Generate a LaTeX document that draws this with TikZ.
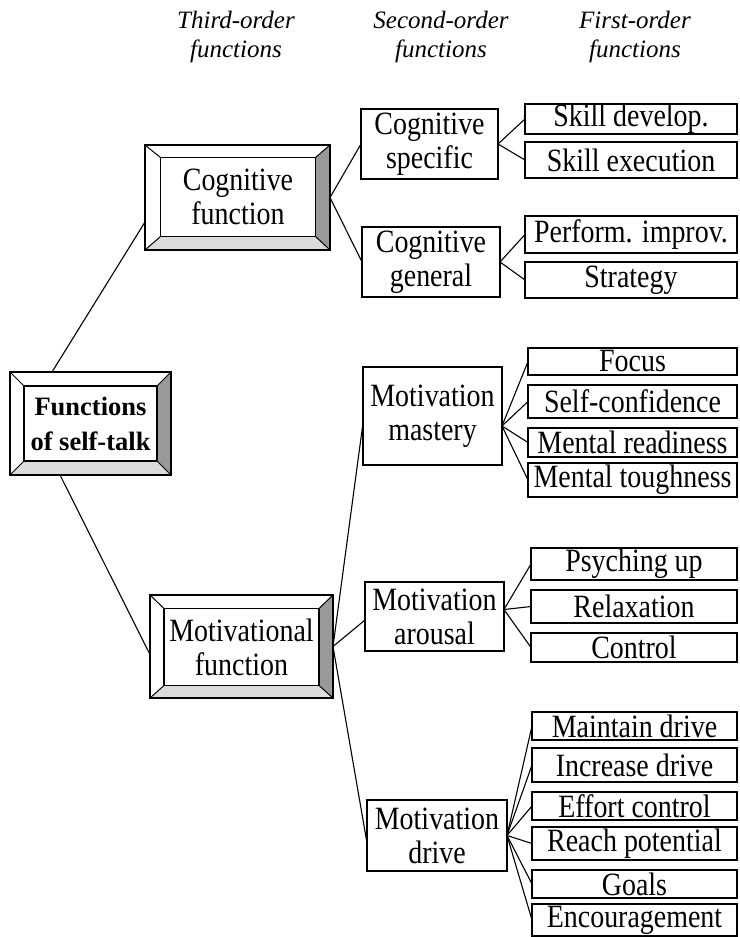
\documentclass[tikz,border=0pt]{standalone}
\usepackage{fontspec}
\setmainfont{Liberation Serif}
\newfontfamily\tallserif[FakeStretch=0.86]{Liberation Serif}
\begin{document}
\begin{tikzpicture}[x=1pt,y=-1pt,
  every node/.style={inner sep=0pt, outer sep=0pt},
  hdr/.style={font=\fontsize{25}{29.5}\selectfont\itshape, align=center},
  txt/.style={font=\tallserif\fontsize{32.5}{34}\selectfont, align=center},
  roottxt/.style={font=\fontsize{26.5}{35}\selectfont\bfseries, align=center},
  plainbox/.style={txt, draw, line width=1.1pt},
  bevelout/.style={},
  bevelin/.style={},
  rshade/.style={fill=black!40},
  bshade/.style={fill=black!14},
  ln/.style={line width=1.1pt}]
\useasboundingbox[fill=white] (0,0) rectangle (739,937);

% headers
\node[hdr] (h3) at (236,37) {Third-order\\functions};
\node[hdr] (h2) at (441,37) {Second-order\\functions};
\node[hdr] (h1) at (635,37) {First-order\\functions};

% bevelled boxes
\node[bevelout, minimum width=161pt, minimum height=103pt] (root) at (90.5,423.5) {};
\node[bevelin, roottxt, minimum width=133pt, minimum height=75pt] (root-in) at (90.5,423.5) {Functions\\of self-talk};
\node[bevelout, minimum width=185pt, minimum height=105pt] (cf) at (237.5,197.5) {};
\node[bevelin, txt, minimum width=155pt, minimum height=79pt] (cf-in) at (238,197) {Cognitive\\function};
\node[bevelout, minimum width=183pt, minimum height=103pt] (mf) at (241.5,646.5) {};
\node[bevelin, txt, minimum width=155pt, minimum height=77pt] (mf-in) at (241.5,647) {Motivational\\function};

\foreach \n in {root,cf,mf} {
  \fill[rshade] (\n.north east) -- (\n.south east) -- (\n-in.south east) -- (\n-in.north east) -- cycle;
  \fill[bshade] (\n.south west) -- (\n.south east) -- (\n-in.south east) -- (\n-in.south west) -- cycle;
  \draw[line width=1.2pt] (\n.north west) rectangle (\n.south east);
  \draw[line width=1.2pt] (\n-in.north west) rectangle (\n-in.south east);
  \draw[line width=1pt] (\n.north west) -- (\n-in.north west);
  \draw[line width=1pt] (\n.north east) -- (\n-in.north east);
  \draw[line width=1pt] (\n.south west) -- (\n-in.south west);
  \draw[line width=1pt] (\n.south east) -- (\n-in.south east);
}

% second-order boxes
\node[plainbox, minimum width=137pt, minimum height=70pt] (cs) at (429.5,144) {Cognitive\\specific};
\node[plainbox, minimum width=138pt, minimum height=70pt] (cg) at (431,262) {Cognitive\\general};
\node[plainbox, minimum width=139pt, minimum height=98pt] (mm) at (432.5,416) {Motivation\\mastery};
\node[plainbox, minimum width=139pt, minimum height=69pt] (ma) at (434.5,616.5) {Motivation\\arousal};
\node[plainbox, minimum width=140pt, minimum height=71pt] (md) at (437,835.5) {Motivation\\drive};

% first-order boxes
\node[plainbox, minimum width=212pt, minimum height=30pt] (sd) at (631,119) {Skill develop.};
\node[plainbox, minimum width=212pt, minimum height=36pt] (se) at (631,160) {Skill execution};
\node[plainbox, minimum width=212pt, minimum height=37pt] (pi) at (631,234.5) {Perform. improv.};
\node[plainbox, minimum width=212pt, minimum height=36pt] (st) at (631,280) {Strategy};

\node[plainbox, minimum width=209pt, minimum height=27pt] (fo) at (632.5,361.5) {Focus};
\node[plainbox, minimum width=209pt, minimum height=33pt] (sc) at (632.5,401.5) {Self-confidence};
\node[plainbox, minimum width=209pt, minimum height=29pt] (mr) at (632.5,442.5) {Mental readiness};
\node[plainbox, minimum width=209pt, minimum height=34pt] (mt) at (632.5,480) {Mental toughness};

\node[plainbox, minimum width=206pt, minimum height=32pt] (pu) at (634,564) {Psyching up};
\node[plainbox, minimum width=206pt, minimum height=33pt] (re) at (634,606.5) {Relaxation};
\node[plainbox, minimum width=206pt, minimum height=29pt] (co) at (634,647.5) {Control};

\node[plainbox, minimum width=205pt, minimum height=28pt] (mdr) at (634.5,726) {Maintain drive};
\node[plainbox, minimum width=205pt, minimum height=34pt] (id) at (634.5,765) {Increase drive};
\node[plainbox, minimum width=205pt, minimum height=28pt] (ec) at (634.5,806) {Effort control};
\node[plainbox, minimum width=205pt, minimum height=33pt] (rp) at (634.5,843.5) {Reach potential};
\node[plainbox, minimum width=205pt, minimum height=28pt] (go) at (634.5,884) {Goals};
\node[plainbox, minimum width=205pt, minimum height=32pt] (en) at (634.5,920) {Encouragement};

% connectors
\draw[ln] ([xshift=42pt]root.north west) -- ([yshift=-24.5pt]cf.west);
\draw[ln] ([xshift=50pt]root.south west) -- ([yshift=-8pt]mf.west);

\draw[ln] (cf.east) -- (cs.west);
\draw[ln] (cf.east) -- (cg.west);

\draw[ln] (mf.east) -- ([yshift=-7pt]mm.west);
\draw[ln] (mf.east) -- ([yshift=-3.5pt]ma.west);
\draw[ln] (mf.east) -- ([yshift=-7.5pt]md.west);

\foreach \c in {sd,se} \draw[ln] (cs.east) -- (\c.west);
\foreach \c in {pi,st} \draw[ln] (cg.east) -- (\c.west);
\foreach \c in {fo,sc,mr,mt} \draw[ln] ([yshift=-10pt]mm.east) -- (\c.west);
\foreach \c in {pu,re,co} \draw[ln] ([yshift=7pt]ma.east) -- (\c.west);
\foreach \c in {mdr,id,ec,rp,go,en} \draw[ln] (md.east) -- (\c.west);
\end{tikzpicture}
\end{document}
